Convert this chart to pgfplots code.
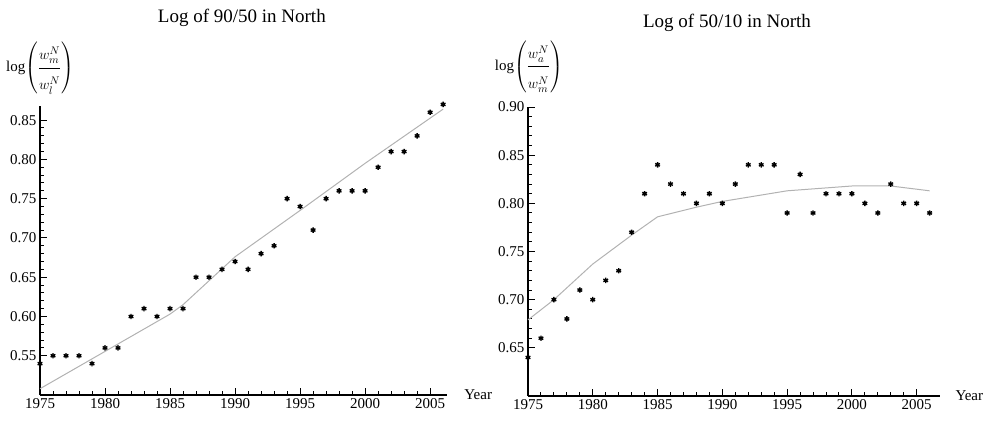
\documentclass[border=0pt]{standalone}
\usepackage{fontspec}
\setmainfont{Liberation Serif}
\usepackage{amsmath}
\usepackage{pgfplots}
\pgfplotsset{compat=1.18}

\pgfplotsset{
  northstyle/.style={
    scale only axis,
    clip=false,
    axis x line*=bottom,
    axis y line*=left,
    axis line style={black, line width=1.1pt},
    tick align=inside,
    tick style={draw=black, line width=1pt},
    major tick length=7pt,
    minor tick length=4pt,
    xtick={1975,1980,...,2005},
    minor x tick num=4,
    minor y tick num=4,
    ticklabel style={font=\fontsize{15}{17}\selectfont},
    /pgf/number format/assume math mode=true,
    x tick label style={/pgf/number format/1000 sep={}},
    y tick label style={/pgf/number format/.cd, fixed, fixed zerofill, precision=2},
  },
  pts/.style={only marks, mark=asterisk, mark size=2.7pt, black, line width=1.4pt},
  fit/.style={no marks, gray!60, line width=1pt},
}

\begin{document}
\begin{tikzpicture}
\useasboundingbox (0,0) rectangle (984pt,424pt);

% left panel
\begin{axis}[northstyle,
  at={(40pt,29pt)}, anchor=south west,
  width=407pt, height=289pt,
  xmin=1975, xmax=2006.3,
  ymin=0.50, ymax=0.868,
  ytick={0.55,0.60,...,0.86},
]
\addplot[pts] coordinates {
 (1975,0.54) (1976,0.55) (1977,0.55) (1978,0.55) (1979,0.54) (1980,0.56)
 (1981,0.56) (1982,0.60) (1983,0.61) (1984,0.60) (1985,0.61) (1986,0.61)
 (1987,0.65) (1988,0.65) (1989,0.66) (1990,0.67) (1991,0.66) (1992,0.68)
 (1993,0.69) (1994,0.75) (1995,0.74) (1996,0.71) (1997,0.75) (1998,0.76)
 (1999,0.76) (2000,0.76) (2001,0.79) (2002,0.81) (2003,0.81) (2004,0.83)
 (2005,0.86) (2006,0.87)
};
\addplot[fit] coordinates {
 (1975,0.508) (1985,0.603) (1986,0.615) (1990,0.676) (1995,0.735)
 (2000,0.795) (2006,0.864)
};
\node[font=\fontsize{19}{22}\selectfont] at (rel axis cs:0.496,1.304) {Log of 90/50 in North};
\node[font=\fontsize{15}{17}\selectfont] at (rel axis cs:0.0,1.13)
  {log$\left(\dfrac{w_m^N\rule[-6pt]{0pt}{20pt}}{w_l^N\rule{0pt}{20pt}}\right)$};
\node[anchor=west, font=\fontsize{15}{17}\selectfont] at (rel axis cs:1.034,0) {Year};
\end{axis}

% right panel
\begin{axis}[northstyle,
  at={(528pt,28pt)}, anchor=south west,
  width=412pt, height=289pt,
  xmin=1975, xmax=2006.8,
  ymin=0.60, ymax=0.90,
  ytick={0.65,0.70,...,0.91},
]
\addplot[pts] coordinates {
 (1975,0.64) (1976,0.66) (1977,0.70) (1978,0.68) (1979,0.71) (1980,0.70)
 (1981,0.72) (1982,0.73) (1983,0.77) (1984,0.81) (1985,0.84) (1986,0.82)
 (1987,0.81) (1988,0.80) (1989,0.81) (1990,0.80) (1991,0.82) (1992,0.84)
 (1993,0.84) (1994,0.84) (1995,0.79) (1996,0.83) (1997,0.79) (1998,0.81)
 (1999,0.81) (2000,0.81) (2001,0.80) (2002,0.79) (2003,0.82) (2004,0.80)
 (2005,0.80) (2006,0.79)
};
\addplot[fit] coordinates {
 (1975,0.679) (1977,0.700) (1980,0.737) (1983,0.767) (1985,0.786)
 (1988,0.796) (1990,0.802) (1995,0.813) (2000,0.818) (2003,0.818) (2006,0.813)
};
\node[font=\fontsize{19}{22}\selectfont] at (rel axis cs:0.483,1.29) {Log of 50/10 in North};
\node[font=\fontsize{15}{17}\selectfont] at (rel axis cs:0.002,1.14)
  {log$\left(\dfrac{w_a^N\rule[-6pt]{0pt}{20pt}}{w_m^N\rule{0pt}{20pt}}\right)$};
\node[anchor=west, font=\fontsize{15}{17}\selectfont] at (rel axis cs:1.029,0) {Year};
\end{axis}
\end{tikzpicture}
\end{document}
